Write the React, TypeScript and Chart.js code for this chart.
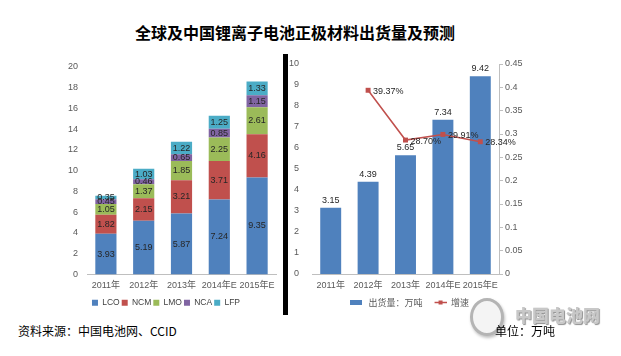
import React, { useEffect, useRef } from "react";
import { Chart, registerables } from "chart.js";

Chart.register(...registerables);

const years = ["2011年", "2012年", "2013年", "2014年E", "2015年E"];
const lco = [3.93, 5.19, 5.87, 7.24, 9.35];
const ncm = [1.82, 2.15, 3.21, 3.71, 4.16];
const lmo = [1.05, 1.37, 1.85, 2.25, 2.61];
const nca = [0.45, 0.46, 0.65, 0.85, 1.15];
const lfp = [0.35, 1.03, 1.22, 1.25, 1.33];
const shipments = [3.15, 4.39, 5.65, 7.34, 9.42];
const growth = [null, 0.3937, 0.287, 0.2991, 0.2834];
const growthLabels = ["", "39.37%", "28.70%", "29.91%", "28.34%"];

const FONT = "'Liberation Sans', 'Noto Sans CJK SC', sans-serif";
const TICK_COLOR = "#595959";
const LABEL_COLOR = "#262626";
const AXIS_COLOR = "#bfbfbf";

const stackLabelPlugin = {
  id: "stackLabels",
  afterDatasetsDraw(chart: any) {
    const ctx = chart.ctx;
    ctx.save();
    ctx.font = `9px ${FONT}`;
    ctx.fillStyle = LABEL_COLOR;
    ctx.textAlign = "center";
    ctx.textBaseline = "middle";
    chart.data.datasets.forEach((ds: any, i: number) => {
      const meta = chart.getDatasetMeta(i);
      meta.data.forEach((el: any, j: number) => {
        const v = ds.data[j];
        ctx.fillText(v.toFixed(2), el.x, (el.y + el.base) / 2);
      });
    });
    ctx.restore();
  },
};

const comboLabelPlugin = {
  id: "comboLabels",
  afterDatasetsDraw(chart: any) {
    const ctx = chart.ctx;
    ctx.save();
    ctx.font = `9px ${FONT}`;
    ctx.fillStyle = LABEL_COLOR;
    const barMeta = chart.getDatasetMeta(0);
    ctx.textAlign = "center";
    ctx.textBaseline = "bottom";
    barMeta.data.forEach((el: any, j: number) => {
      ctx.fillText(shipments[j].toFixed(2), el.x, el.y - 3);
    });
    const lineMeta = chart.getDatasetMeta(1);
    ctx.textAlign = "left";
    ctx.textBaseline = "middle";
    lineMeta.data.forEach((el: any, j: number) => {
      if (growth[j] == null) return;
      ctx.fillText(growthLabels[j], el.x + 5, el.y + 1);
    });
    ctx.restore();
  },
};

function makeBarSwatch() {
  const c = document.createElement("canvas");
  c.width = 20;
  c.height = 5;
  const g = c.getContext("2d")!;
  g.fillStyle = "#4F81BD";
  g.fillRect(6, 0, 12, 5);
  return c;
}
function makeLineSwatch() {
  const c = document.createElement("canvas");
  c.width = 20;
  c.height = 7;
  const g = c.getContext("2d")!;
  g.strokeStyle = "#C0504D";
  g.lineWidth = 1.5;
  g.beginPath();
  g.moveTo(8, 3.5);
  g.lineTo(20, 3.5);
  g.stroke();
  g.fillStyle = "#C0504D";
  g.fillRect(12, 1.5, 4, 4);
  return c;
}

function LeftChart() {
  const ref = useRef<HTMLCanvasElement>(null);
  useEffect(() => {
    const colors = ["#4F81BD", "#C0504D", "#9BBB59", "#8064A2", "#4BACC6"];
    const names = ["LCO", "NCM", "LMO", "NCA", "LFP"];
    const series = [lco, ncm, lmo, nca, lfp];
    const chart = new Chart(ref.current!, {
      type: "bar",
      data: {
        labels: years,
        datasets: series.map((d, i) => ({
          label: names[i],
          data: d,
          backgroundColor: colors[i],
          borderWidth: 0,
          barPercentage: 0.56,
          categoryPercentage: 1,
        })),
      },
      options: {
        animation: false,
        responsive: false,
        maintainAspectRatio: false,
        layout: { padding: { left: 56, top: 67, right: 7, bottom: 3 } },
        plugins: {
          tooltip: { enabled: false },
          legend: {
            position: "bottom",
            labels: {
              boxWidth: 6,
              boxHeight: 6,
              padding: 2,
              color: "#404040",
              font: { size: 8.5, family: FONT },
            },
          },
        },
        scales: {
          x: {
            stacked: true,
            grid: { display: false, drawTicks: false },
            border: { display: true, color: AXIS_COLOR },
            ticks: {
              color: TICK_COLOR,
              font: { size: 9, family: FONT },
              padding: 6,
              maxRotation: 0,
              autoSkip: false,
            },
            afterFit: (s: any) => {
              s.height = 22;
            },
          },
          y: {
            stacked: true,
            min: 0,
            max: 20,
            grid: { display: false, drawTicks: false },
            border: { display: false },
            ticks: { stepSize: 2, color: TICK_COLOR, font: { size: 9, family: FONT }, padding: 9 },
            afterFit: (s: any) => {
              s.width = 31;
            },
          },
        },
      },
      plugins: [stackLabelPlugin],
    } as any);
    return () => chart.destroy();
  }, []);
  return (
    <canvas
      ref={ref}
      width={283}
      height={320}
      style={{ position: "absolute", left: 0, top: 0, width: 283, height: 320 }}
    />
  );
}

function RightChart() {
  const ref = useRef<HTMLCanvasElement>(null);
  useEffect(() => {
    const barSwatch = makeBarSwatch();
    const lineSwatch = makeLineSwatch();
    const chart = new Chart(ref.current!, {
      type: "bar",
      data: {
        labels: years,
        datasets: [
          {
            type: "bar",
            label: "出货量：万吨",
            data: shipments,
            backgroundColor: "#4F81BD",
            borderWidth: 0,
            barPercentage: 0.56,
            categoryPercentage: 1,
            yAxisID: "y",
            order: 2,
          },
          {
            type: "line",
            label: "增速",
            data: growth,
            borderColor: "#C0504D",
            backgroundColor: "#C0504D",
            borderWidth: 1.5,
            pointStyle: "rect",
            pointRadius: 3.5,
            pointBorderWidth: 0,
            yAxisID: "y1",
            order: 1,
            spanGaps: false,
          },
        ],
      },
      options: {
        animation: false,
        responsive: false,
        maintainAspectRatio: false,
        layout: { padding: { left: 0, top: 64, right: 94, bottom: 3 } },
        plugins: {
          tooltip: { enabled: false },
          legend: {
            position: "bottom",
            labels: {
              usePointStyle: true,
              pointStyleWidth: 20,
              padding: 4,
              color: "#595959",
              font: { size: 9, family: "'Noto Sans CJK SC', sans-serif" },
              generateLabels: (ch: any) =>
                ch.data.datasets.map((ds: any, i: number) => ({
                  text: ds.label,
                  pointStyle: i === 0 ? barSwatch : lineSwatch,
                  fillStyle: "transparent",
                  strokeStyle: "transparent",
                  lineWidth: 0,
                  fontColor: "#595959",
                  hidden: false,
                  datasetIndex: i,
                })),
            },
          },
        },
        scales: {
          x: {
            grid: { display: false, drawTicks: false },
            border: { display: true, color: AXIS_COLOR },
            ticks: {
              color: TICK_COLOR,
              font: { size: 9, family: FONT },
              padding: 6,
              maxRotation: 0,
              autoSkip: false,
            },
            afterFit: (s: any) => {
              s.height = 20;
            },
          },
          y: {
            position: "left",
            min: 0,
            max: 10,
            grid: { display: false, drawTicks: false },
            border: { display: false },
            ticks: { stepSize: 1, color: TICK_COLOR, font: { size: 9, family: FONT }, padding: 13 },
            afterFit: (s: any) => {
              s.width = 26;
            },
          },
          y1: {
            position: "right",
            min: 0,
            max: 0.45,
            grid: { display: true, drawOnChartArea: false, drawTicks: true, tickLength: 4, color: AXIS_COLOR },
            border: { display: true, color: AXIS_COLOR },
            ticks: {
              stepSize: 0.05,
              color: TICK_COLOR,
              font: { size: 9, family: FONT },
              padding: 2,
              callback: (v: any) => String(Number(Number(v).toFixed(2))),
            },
            afterFit: (s: any) => {
              s.width = 28;
            },
          },
        },
      },
      plugins: [comboLabelPlugin],
    } as any);
    return () => chart.destroy();
  }, []);
  return (
    <canvas
      ref={ref}
      width={335}
      height={320}
      style={{ position: "absolute", left: 286, top: 0, width: 335, height: 320 }}
    />
  );
}

export default function App() {
  return (
    <div
      style={{
        position: "fixed",
        left: 0,
        top: 0,
        width: 621,
        height: 356,
        background: "#fff",
        overflow: "hidden",
      }}
    >
      <div
        style={{
          position: "absolute",
          left: 0,
          top: 22,
          width: 590,
          textAlign: "center",
          fontFamily: "'Noto Sans CJK SC', sans-serif",
          fontWeight: 700,
          fontSize: 16,
          lineHeight: "20px",
          color: "#000",
        }}
      >
        全球及中国锂离子电池正极材料出货量及预测
      </div>
      <LeftChart />
      <RightChart />
      <div
        style={{ position: "absolute", left: 283, top: 54, width: 5, height: 261, background: "#000" }}
      />
      <div
        style={{
          position: "absolute",
          left: 470,
          top: 298,
          width: 34,
          height: 38,
          boxSizing: "border-box",
          borderRadius: "50%",
          border: "3px solid #b4b4b4",
          background: "#f4f4f4",
          boxShadow: "1px 2px 3px rgba(0,0,0,0.25)",
          zIndex: 2,
        }}
      />
      <div
        style={{
          position: "absolute",
          left: 515,
          top: 305,
          width: 90,
          fontFamily: "'Noto Sans CJK SC', sans-serif",
          fontWeight: 900,
          fontSize: 17,
          lineHeight: "20px",
          letterSpacing: "0px",
          whiteSpace: "nowrap",
          color: "#c8c8c8",
          textShadow: "1px 1px 1px #909090",
          zIndex: 2,
        }}
      >
        中国电池网
      </div>
      <div
        style={{
          position: "absolute",
          left: 18,
          top: 323,
          fontFamily: "'Noto Sans CJK SC', sans-serif",
          fontSize: 12,
          lineHeight: "16px",
          color: "#000",
        }}
      >
        资料来源：中国电池网、CCID
      </div>
      <div
        style={{
          position: "absolute",
          left: 495,
          top: 323,
          fontFamily: "'Noto Sans CJK SC', sans-serif",
          fontSize: 12,
          lineHeight: "16px",
          color: "#000",
          zIndex: 3,
        }}
      >
        单位：万吨
      </div>
    </div>
  );
}
